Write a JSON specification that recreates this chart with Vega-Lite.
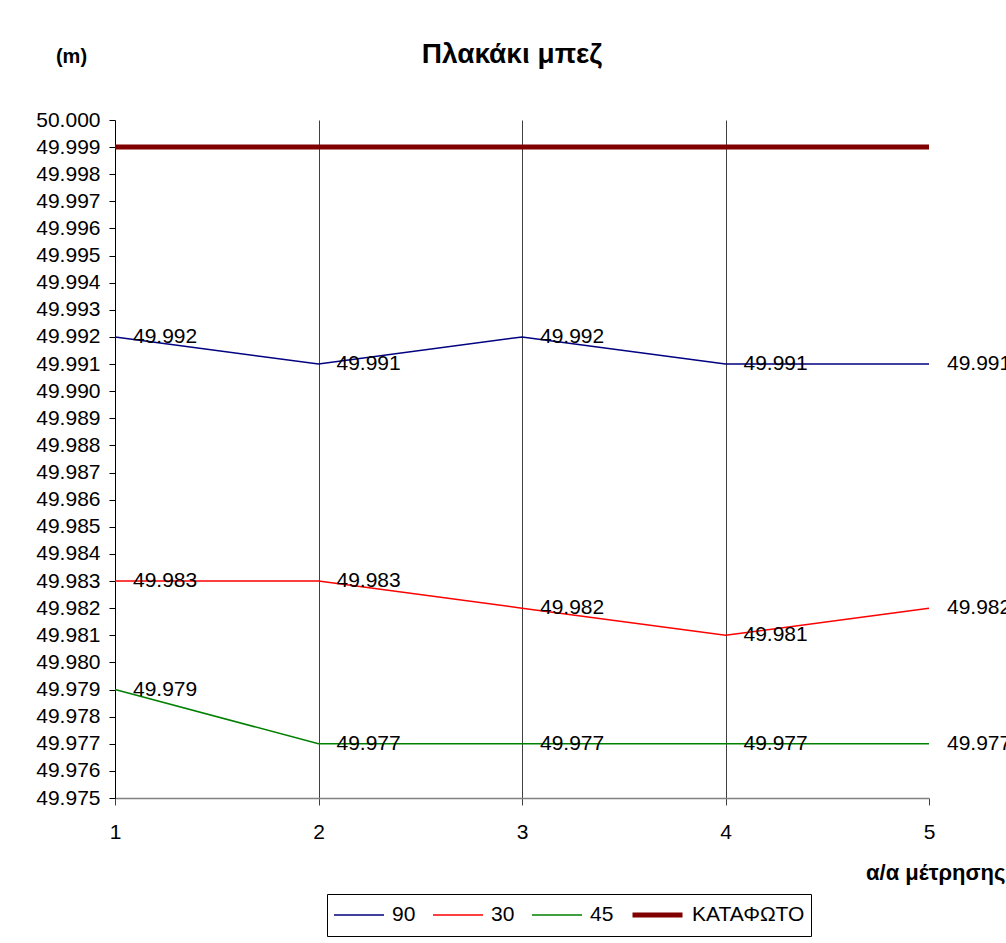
{
  "$schema": "https://vega.github.io/schema/vega-lite/v6.json",
  "autosize": {"type": "none"},
  "width": 814,
  "height": 678,
  "padding": {"left": 115, "top": 120, "right": 77, "bottom": 145},
  "background": "white",
  "config": {
    "font": "Liberation Sans",
    "view": {"stroke": null}
  },
  "title": {
    "text": "Πλακάκι μπεζ",
    "fontSize": 28,
    "fontWeight": "bold",
    "font": "Liberation Sans",
    "color": "black",
    "anchor": "middle",
    "baseline": "alphabetic",
    "dx": -10,
    "dy": 45,
    "offset": 0
  },
  "data": {
    "values": [
      {"x": 1, "value": 49.992, "series": "90"},
      {"x": 2, "value": 49.991, "series": "90"},
      {"x": 3, "value": 49.992, "series": "90"},
      {"x": 4, "value": 49.991, "series": "90"},
      {"x": 5, "value": 49.991, "series": "90"},
      {"x": 1, "value": 49.983, "series": "30"},
      {"x": 2, "value": 49.983, "series": "30"},
      {"x": 3, "value": 49.982, "series": "30"},
      {"x": 4, "value": 49.981, "series": "30"},
      {"x": 5, "value": 49.982, "series": "30"},
      {"x": 1, "value": 49.979, "series": "45"},
      {"x": 2, "value": 49.977, "series": "45"},
      {"x": 3, "value": 49.977, "series": "45"},
      {"x": 4, "value": 49.977, "series": "45"},
      {"x": 5, "value": 49.977, "series": "45"},
      {"x": 1, "value": 49.999, "series": "ΚΑΤΑΦΩΤΟ"},
      {"x": 2, "value": 49.999, "series": "ΚΑΤΑΦΩΤΟ"},
      {"x": 3, "value": 49.999, "series": "ΚΑΤΑΦΩΤΟ"},
      {"x": 4, "value": 49.999, "series": "ΚΑΤΑΦΩΤΟ"},
      {"x": 5, "value": 49.999, "series": "ΚΑΤΑΦΩΤΟ"}
    ]
  },
  "encoding": {
    "x": {
      "field": "x",
      "type": "quantitative",
      "scale": {"domain": [1, 5], "nice": false, "zero": false},
      "axis": {
        "values": [1, 2, 3, 4, 5],
        "format": "d",
        "grid": true,
        "gridColor": "#404040",
        "gridWidth": 1,
        "gridOpacity": {"condition": {"test": "datum.value === 5 || datum.value === 1", "value": 0}, "value": 1},
        "domainColor": "#808080",
        "domainWidth": 1.5,
        "tickColor": "#404040",
        "tickSize": 7,
        "labelFlush": false,
        "labelFontSize": 21,
        "labelColor": "black",
        "labelPadding": 16,
        "labelFont": "Liberation Sans",
        "title": "α/α μέτρησης",
        "titleFontSize": 22,
        "titleFontWeight": "bold",
        "titleColor": "black",
        "titleFont": "Liberation Sans",
        "titleAlign": "right",
        "titleBaseline": "middle",
        "titleX": 890,
        "titleY": 74
      }
    },
    "y": {
      "field": "value",
      "type": "quantitative",
      "scale": {"domain": [49.975, 50.0], "nice": false, "zero": false},
      "axis": {
        "values": [49.975, 49.976, 49.977, 49.978, 49.979, 49.98, 49.981, 49.982, 49.983, 49.984, 49.985, 49.986, 49.987, 49.988, 49.989, 49.99, 49.991, 49.992, 49.993, 49.994, 49.995, 49.996, 49.997, 49.998, 49.999, 50.0],
        "format": ".3f",
        "grid": false,
        "labelFlush": false,
        "domainColor": "black",
        "domainWidth": 1,
        "tickColor": "black",
        "tickSize": 6,
        "labelFontSize": 21,
        "labelColor": "black",
        "labelPadding": 9,
        "labelFont": "Liberation Sans",
        "title": "(m)",
        "titleAngle": 0,
        "titleFontSize": 20,
        "titleFontWeight": "bold",
        "titleColor": "black",
        "titleFont": "Liberation Sans",
        "titleAlign": "center",
        "titleBaseline": "middle",
        "titleX": -44,
        "titleY": -64
      }
    }
  },
  "layer": [
    {
      "mark": {"type": "line", "strokeCap": "butt"},
      "encoding": {
        "color": {
          "field": "series",
          "type": "nominal",
          "scale": {"domain": ["90", "30", "45", "ΚΑΤΑΦΩΤΟ"], "range": ["#000080", "#FF0000", "#008000", "#800000"]},
          "legend": {
            "title": null,
            "orient": "none",
            "legendX": 212,
            "legendY": 774,
            "direction": "horizontal",
            "strokeColor": "black",
            "padding": 6,
            "symbolType": "stroke",
            "symbolSize": 2500,
            "clipHeight": 30,
            "labelFontSize": 21,
            "labelFont": "Liberation Sans",
            "labelColor": "black",
            "labelOffset": 7,
            "columnPadding": 16
          }
        },
        "strokeWidth": {
          "field": "series",
          "type": "nominal",
          "scale": {"type": "ordinal", "domain": ["90", "30", "45", "ΚΑΤΑΦΩΤΟ"], "range": [1.5, 1.5, 1.5, 5]},
          "legend": {
            "title": null,
            "orient": "none",
            "legendX": 212,
            "legendY": 774,
            "direction": "horizontal",
            "strokeColor": "black",
            "padding": 6,
            "symbolType": "stroke",
            "symbolSize": 2500,
            "clipHeight": 30,
            "labelFontSize": 21,
            "labelFont": "Liberation Sans",
            "labelColor": "black",
            "labelOffset": 7,
            "columnPadding": 16
          }
        },
        "order": {"field": "x", "type": "quantitative"}
      }
    },
    {
      "transform": [{"filter": "datum.series !== 'ΚΑΤΑΦΩΤΟ'"}],
      "mark": {"type": "text", "align": "left", "baseline": "middle", "dx": 18, "dy": 0, "fontSize": 21, "font": "Liberation Sans", "color": "black", "clip": false},
      "encoding": {
        "text": {"field": "value", "type": "quantitative", "format": ".3f"}
      }
    }
  ]
}
